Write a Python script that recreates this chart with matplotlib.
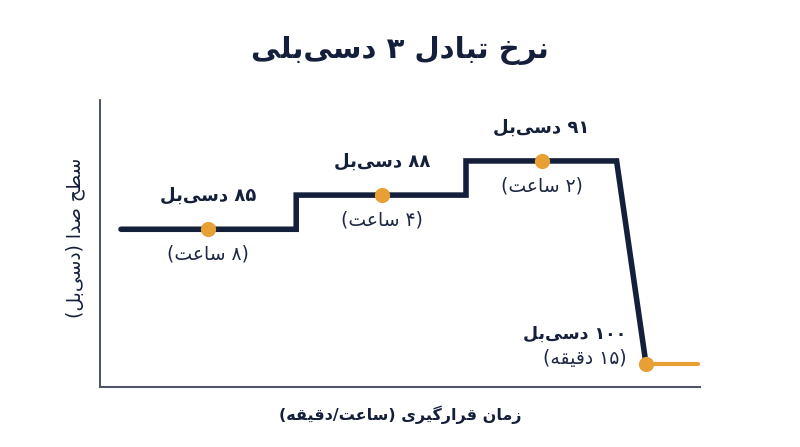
import matplotlib
matplotlib.use("Agg")
import matplotlib.pyplot as plt

# chart data
title = "نرخ تبادل ۳ دسی‌بلی"
x_label = "زمان قرارگیری (ساعت/دقیقه)"
y_label = "سطح صدا (دسی‌بل)"
levels = ["۸۵", "۸۸", "۹۱", "۱۰۰"]
durations = ["۸ ساعت", "۴ ساعت", "۲ ساعت", "۱۵ دقیقه"]

# step line (arbitrary units)
step_x = [3.5, 32.7, 32.7, 61.0, 61.0, 86.1, 91.0]
step_y = [46.2, 46.2, 56.2, 56.2, 66.2, 66.2, 6.8]
dot_x = [18.0, 47.0, 73.6, 91.0]
dot_y = [46.2, 56.2, 66.2, 6.8]
tail_x = [91.0, 99.7]
tail_y = [6.8, 6.8]

navy = "#14203b"
orange = "#e8a035"

# --- tiny arabic shaper, matplotlib has no shaping / bidi ---
forms = {
    "ا": ("\uFE8D", "\uFE8E", None, None),
    "ب": ("\uFE8F", "\uFE90", "\uFE91", "\uFE92"),
    "ت": ("\uFE95", "\uFE96", "\uFE97", "\uFE98"),
    "ح": ("\uFEA1", "\uFEA2", "\uFEA3", "\uFEA4"),
    "خ": ("\uFEA5", "\uFEA6", "\uFEA7", "\uFEA8"),
    "د": ("\uFEA9", "\uFEAA", None, None),
    "ر": ("\uFEAD", "\uFEAE", None, None),
    "ز": ("\uFEAF", "\uFEB0", None, None),
    "س": ("\uFEB1", "\uFEB2", "\uFEB3", "\uFEB4"),
    "ص": ("\uFEB9", "\uFEBA", "\uFEBB", "\uFEBC"),
    "ط": ("\uFEC1", "\uFEC2", "\uFEC3", "\uFEC4"),
    "ع": ("\uFEC9", "\uFECA", "\uFECB", "\uFECC"),
    "ق": ("\uFED5", "\uFED6", "\uFED7", "\uFED8"),
    "ل": ("\uFEDD", "\uFEDE", "\uFEDF", "\uFEE0"),
    "م": ("\uFEE1", "\uFEE2", "\uFEE3", "\uFEE4"),
    "ن": ("\uFEE5", "\uFEE6", "\uFEE7", "\uFEE8"),
    "ه": ("\uFEE9", "\uFEEA", "\uFEEB", "\uFEEC"),
    "ی": ("\uFBFC", "\uFBFD", "\uFBFE", "\uFBFF"),
    "گ": ("\uFB92", "\uFB93", "\uFB94", "\uFB95"),
}


def joins_next(c):
    return c in forms and forms[c][2] is not None


def shape(s):
    out = []
    for i, c in enumerate(s):
        if c not in forms:
            out.append(c)
            continue
        prev = s[i - 1] if i > 0 else ""
        nxt = s[i + 1] if i + 1 < len(s) else ""
        p = joins_next(prev)
        n = joins_next(c) and nxt in forms
        iso, fin, ini, med = forms[c]
        if p and n:
            out.append(med)
        elif p:
            out.append(fin)
        elif n:
            out.append(ini)
        else:
            out.append(iso)
    return "".join(out).replace("\u200c", "")


def rtl(s):
    s = shape(s)
    # reverse but keep digit runs left-to-right
    chunks = []
    cur = ""
    for c in s:
        if "\u06F0" <= c <= "\u06F9":
            cur += c
        else:
            if cur:
                chunks.append(cur)
                cur = ""
            chunks.append({"(": ")", ")": "("}.get(c, c))
    if cur:
        chunks.append(cur)
    return "".join(reversed(chunks))


plt.rcParams["font.family"] = ["DejaVu Sans"]

fig = plt.figure(figsize=(8, 4.47), dpi=100)
ax = fig.add_axes([0.125, 0.134, 0.75, 0.642])
ax.set_xlim(0, 100)
ax.set_ylim(0, 84)

ax.plot(step_x, step_y, color=navy, lw=4, solid_joinstyle="miter", solid_capstyle="round", zorder=2)
ax.plot(tail_x, tail_y, color=orange, lw=3, solid_capstyle="round", zorder=2)
ax.scatter(dot_x, dot_y, s=120, color=orange, zorder=3, linewidths=0)

for i in range(3):
    ax.annotate(rtl(levels[i] + " دسی‌بل"), (dot_x[i], dot_y[i]), xytext=(0, 24),
                textcoords="offset points", ha="center", va="center",
                fontsize=13, fontweight="bold", color=navy)
    ax.annotate(rtl("(" + durations[i] + ")"), (dot_x[i], dot_y[i]), xytext=(0, -18),
                textcoords="offset points", ha="center", va="center",
                fontsize=13.5, color="#1c2844")
ax.annotate(rtl(levels[3] + " دسی‌بل"), (dot_x[3], dot_y[3]), xytext=(-14, 22),
            textcoords="offset points", ha="right", va="center",
            fontsize=12.5, fontweight="bold", color=navy)
ax.annotate(rtl("(" + durations[3] + ")"), (dot_x[3], dot_y[3]), xytext=(-14, 4),
            textcoords="offset points", ha="right", va="center",
            fontsize=13.5, color="#1c2844")

for side in ["top", "right"]:
    ax.spines[side].set_visible(False)
ax.spines["left"].set_color("#2a3350")
ax.spines["left"].set_linewidth(1.2)
ax.spines["bottom"].set_color("#4d5566")
ax.spines["bottom"].set_linewidth(1.5)
ax.set_xticks([])
ax.set_yticks([])

fig.text(0.5, 0.886, rtl(title), ha="center", va="center", fontsize=21,
         fontweight="bold", color=navy)
fig.text(0.5, 0.072, rtl(x_label), ha="center", va="center", fontsize=11.5,
         fontweight="bold", color=navy)
fig.text(0.094, 0.467, rtl(y_label), ha="center", va="center", rotation=90,
         fontsize=13.5, color=navy)

fig.savefig("out.png", dpi=100)
